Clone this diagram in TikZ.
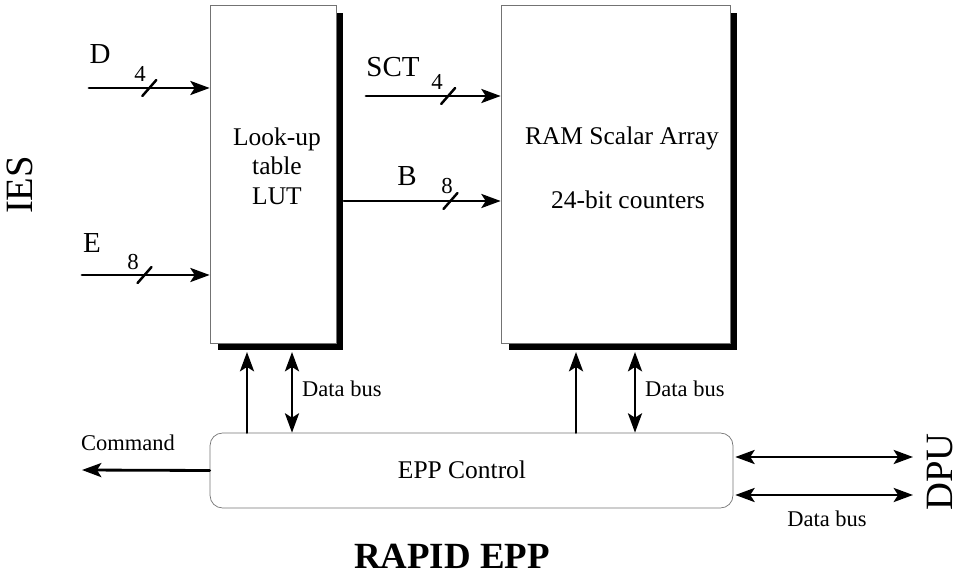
\documentclass[tikz,border=0pt]{standalone}
\usepackage{fontspec}
\setmainfont{Liberation Serif}
\usetikzlibrary{arrows.meta, shadows, positioning}

\begin{document}
\begin{tikzpicture}[x=0.02cm, y=-0.02cm, >={Stealth[length=11pt,width=8pt,inset=2.5pt]}, line cap=round,
	block/.style={draw=black!55, line width=0.4pt, fill=white, minimum height=6.76cm,
		drop shadow={shadow xshift=0.15cm, shadow yshift=-0.15cm, fill=black, opacity=1}},
	ctrl/.style={draw=black!55, line width=0.4pt, rounded corners=0.25cm,
		minimum width=10.46cm, minimum height=1.5cm},
	sig/.style={->, line width=1.6pt},
	bus/.style={<->, line width=1.6pt},
	boxtext/.style={align=center, font=\fontsize{14.5}{16.8}\selectfont},
	lbl/.style={font=\fontsize{12.8}{14}\selectfont},
	signame/.style={font=\fontsize{16.5}{18}\selectfont},
	width/.style={font=\fontsize{13}{14}\selectfont, inner sep=0pt},
	side/.style={rotate=90, font=\fontsize{22}{24}\selectfont}]
	% -------- Frame --------
	\useasboundingbox (0,0) rectangle (960,577);
	
	% -------- Blocks --------
	\node[block, minimum width=2.52cm] (lut) at (273,174) {};
	\node[block, minimum width=4.58cm] (ram) at (615.5,174) {};
	\node[ctrl] (epp) at (471.5,470.5) {};
	
	\node[boxtext] (luttext) at (277,166) {Look-up\\table\\LUT};
	\node[boxtext] (ramtext) at (622,138) {RAM Scalar Array};
	\node[boxtext] (cnttext) at (628,200) {24-bit counters};
	\node[boxtext] (epptext) at (462,470) {EPP Control};
	
	% -------- Inputs (bus width marked by a slash) --------
	\coordinate (Din) at (89,88);
	\coordinate (Ein) at (82,275);
	\coordinate (SCTin) at (366,96);
	\coordinate (Bout) at (lut.east |- 0,201);
	
	\draw[sig] (Din) -- (lut.west |- Din) coordinate[pos=0.5] (Ds);
	\draw[sig] (Ein) -- (lut.west |- Ein) coordinate[pos=0.49] (Es);
	\draw[sig] (SCTin) -- (ram.west |- SCTin) coordinate[pos=0.61] (SCTs);
	\draw[sig] ([xshift=0.15cm]Bout) -- (ram.west |- Bout) coordinate[pos=0.68] (Bs);
	
	\foreach \s in {Ds, Es, SCTs, Bs}
		\draw[line width=1.4pt] (\s) ++(-7,8) -- ++(14,-16);
	
	\node[signame] (D) at (100,54) {D};
	\node[width] (Dw) at (140,74) {4};
	\node[signame] (E) at (92,243) {E};
	\node[width] (Ew) at (133,262) {8};
	\node[signame] (SCT) at (393,67) {SCT};
	\node[width] (SCTw) at (437,82) {4};
	\node[signame] (B) at (407,176) {B};
	\node[width] (Bw) at (447,186) {8};
	
	% -------- Control lines and data buses --------
	\coordinate (lutc) at (247,352);
	\coordinate (lutd) at (292,352);
	\coordinate (ramc) at (576,352);
	\coordinate (ramd) at (635,352);
	
	\draw[sig] (epp.north -| lutc) -- (lutc);
	\draw[bus] (epp.north -| lutd) -- (lutd);
	\draw[sig] (epp.north -| ramc) -- (ramc);
	\draw[bus] (epp.north -| ramd) -- (ramd);
	\node[lbl, anchor=west] (lutbus) at (296,389) {Data bus};
	\node[lbl, anchor=west] (rambus) at (639,389) {Data bus};
	
	\coordinate (cmd) at (82,470);
	\draw[sig] (epp.west) -- (cmd);
	\node[lbl] (cmdtext) at (128,443) {Command};
	
	\coordinate (dpuA) at (913,457);
	\coordinate (dpuB) at (913,495);
	\draw[bus] ([xshift=0.04cm]epp.east |- dpuA) -- (dpuA);
	\draw[bus] ([xshift=0.04cm]epp.east |- dpuB) -- (dpuB);
	\node[lbl] (dpubus) at (827,519) {Data bus};
	
	% -------- Side and title labels --------
	\node[side] (ies) at (20,185) {IES};
	\node[side] (dpu) at (940,472) {DPU};
	\node[font=\fontsize{21}{24}\selectfont\bfseries] (title) at (452,556) {RAPID EPP};
\end{tikzpicture}
\end{document}
